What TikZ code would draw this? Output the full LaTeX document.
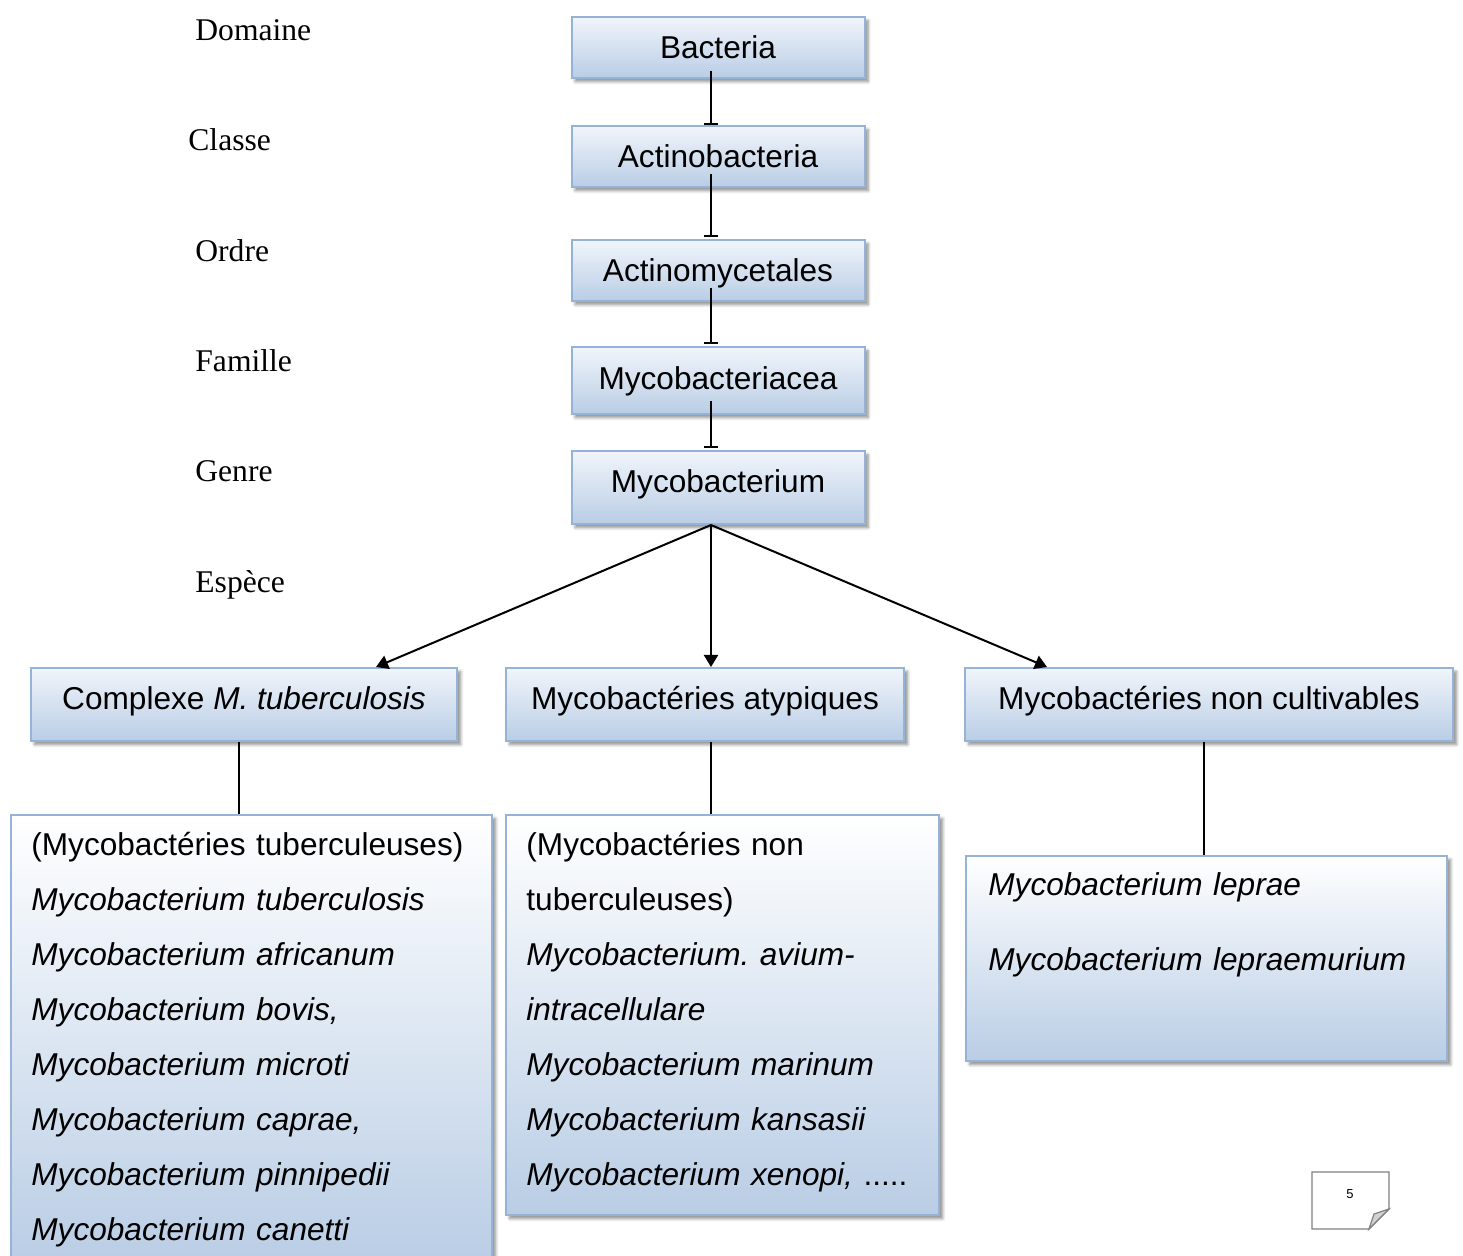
\documentclass[tikz,border=0pt]{standalone}
\usepackage{fontspec}
\setmainfont{Liberation Serif}
\newfontfamily\arialfont{Liberation Sans}
\usetikzlibrary{arrows.meta,shadows.blur}
\definecolor{boxline}{HTML}{95B3D7}
\definecolor{boxblue}{HTML}{B9CDE5}
\definecolor{boxtop}{HTML}{F1F5FB}
\frenchspacing
\tikzset{
    ombre/.style={blur shadow={shadow xshift=1.8pt, shadow yshift=-1.8pt,
        shadow blur radius=1.5pt, shadow blur steps=6, shadow opacity=45}},
    taxon/.style={draw=boxline, line width=1pt, top color=boxtop, bottom color=boxblue,
        minimum width=146.5pt, inner sep=0pt, text height=11.5pt, text depth=0.7pt,
        font=\arialfont\fontsize{15.8}{19}\selectfont, ombre},
    groupe/.style={taxon, minimum height=36.5pt, text depth=6.2pt},
    liste/.style={draw=boxline, line width=1pt, top color=white, bottom color=boxblue,
        anchor=north west, inner sep=0pt, ombre},
    listtxt/.style={anchor=base west, inner sep=0pt, align=left,
        font=\arialfont\fontsize{15.8}{27.5}\selectfont},
    rang/.style={anchor=base west, inner sep=0pt, font=\fontsize{15.8}{19}\selectfont},
    lien/.style={line width=1pt, -{Bar[width=7pt]}},
    fleche/.style={line width=1pt, -{Triangle[width=7pt,length=6pt]}}
}
\begin{document}
\begin{tikzpicture}[x=0.5pt, y=-0.5pt]
    \useasboundingbox (0,0) rectangle (1463,1256);
    \clip (0,0) rectangle (1463,1256);

    % rangs
    \node [rang] (dom) at (195,41) {Domaine};
    \node [rang] (cla) at (188,151) {Classe};
    \node [rang] (ord) at (195,262) {Ordre};
    \node [rang] (fam) at (195,372) {Famille};
    \node [rang] (gen) at (195,482) {Genre};
    \node [rang] (esp) at (195,593) {Espèce};

    % taxons
    \node [taxon, minimum height=30.5pt] (a) at (718,47.5) {Bacteria};
    \node [taxon, minimum height=30.5pt] (b) at (718,156.5) {Actinobacteria};
    \node [taxon, minimum height=30.5pt] (c) at (718,270.5) {Actinomycetales};
    \node [taxon, minimum height=33.5pt, text depth=2.7pt] (d) at (718,380.5) {Mycobacteriacea};
    \node [taxon, minimum height=36.5pt, text depth=6.2pt] (e) at (718,487.5) {Mycobacterium};

    \draw [lien] ([xshift=-3.5pt,yshift=4pt]a.south) -- ([xshift=-3.5pt]b.north);
    \draw [lien] ([xshift=-3.5pt,yshift=7pt]b.south) -- ([xshift=-3.5pt,yshift=1pt]c.north);
    \draw [lien] ([xshift=-3.5pt,yshift=7pt]c.south) -- ([xshift=-3.5pt,yshift=1pt]d.north);
    \draw [lien] ([xshift=-3.5pt,yshift=7pt]d.south) -- ([xshift=-3.5pt,yshift=1pt]e.north);

    % groupes
    \node [groupe, minimum width=213pt] (f) at (244,704.5) {Complexe \textit{M. tuberculosis}};
    \node [groupe, minimum width=199pt] (g) at (705,704.5) {Mycobactéries atypiques};
    \node [groupe, minimum width=244pt] (h) at (1209,704.5) {Mycobactéries non cultivables};

    \draw [fleche] ([xshift=-3.5pt]e.south) -- ([xshift=66pt]f.north);
    \draw [fleche] ([xshift=-3.5pt]e.south) -- ([xshift=3pt]g.north);
    \draw [fleche] ([xshift=-3.5pt]e.south) -- ([xshift=-81pt]h.north);

    % especes
    \node [liste, minimum width=240.5pt, minimum height=225pt] (i) at (10,814) {};
    \node [liste, minimum width=216.5pt, minimum height=200pt] (j) at (505,814) {};
    \node [liste, minimum width=240.5pt, minimum height=102.5pt] (k) at (965,855) {};

    \draw [line width=1pt] ([xshift=-2.5pt]f.south) -- ([xshift=-2.5pt]f.south |- i.north);
    \draw [line width=1pt] ([xshift=3pt]g.south) -- ([xshift=3pt]g.south |- j.north);
    \draw [line width=1pt] ([xshift=-2.5pt]h.south) -- ([xshift=-2.5pt]h.south |- k.north);

    \node [listtxt, text width=235pt] (i1) at (31,856) {(Mycobactéries tuberculeuses)\\
        \textit{Mycobacterium tuberculosis}\\
        \textit{Mycobacterium africanum}\\
        \textit{Mycobacterium bovis,}\\
        \textit{Mycobacterium microti}\\
        \textit{Mycobacterium caprae,}\\
        \textit{Mycobacterium pinnipedii}\\
        \textit{Mycobacterium canetti}};
    \node [listtxt, text width=205pt] (j1) at (526,856) {(Mycobactéries non\\
        tuberculeuses)\\
        \textit{Mycobacterium. avium-}\\
        \textit{intracellulare}\\
        \textit{Mycobacterium marinum}\\
        \textit{Mycobacterium kansasii}\\
        \textit{Mycobacterium xenopi,} .....};
    \node [listtxt, text width=225pt, font=\arialfont\fontsize{15.8}{37}\selectfont] (k1) at (988,896) {\textit{Mycobacterium leprae}\\
        \textit{Mycobacterium lepraemurium}};

    % numero de page
    \draw [gray, line width=0.6pt] (1312,1172) -- (1389,1172) -- (1389,1209) -- (1369,1229) -- (1312,1229) -- cycle;
    \filldraw [gray, fill=gray!35, line width=0.6pt] (1389,1209) -- (1374,1214) -- (1369,1229) -- cycle;
    \node [font=\arialfont\fontsize{6.5}{7}\selectfont, inner sep=0pt] (num) at (1350,1194) {5};
\end{tikzpicture}
\end{document}
